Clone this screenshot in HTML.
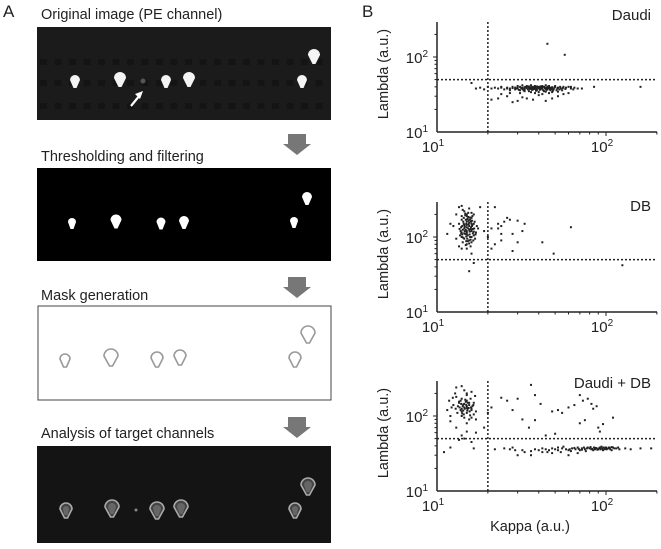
<!DOCTYPE html>
<html><head><meta charset="utf-8"><style>
html,body{margin:0;padding:0;background:#fff;}
svg{display:block;font-family:"Liberation Sans",Arial,sans-serif;}
</style></head><body>
<svg id="fig" width="661" height="549" viewBox="0 0 661 549" xmlns="http://www.w3.org/2000/svg">
<g id="panelA">
<text x="3" y="17" font-size="17" fill="#222">A</text>
<text x="41" y="19" font-size="14.5" fill="#222">Original image (PE channel)</text>
<rect x="37" y="27" width="294" height="93" fill="#1b1b1b"/>
<g id="dimmarks"></g>
<g id="img1blobs"></g>
<circle cx="143" cy="81" r="2.5" fill="#555"/>
<path d="M131,106 L140,95" stroke="#fff" stroke-width="2.2"/>
<path d="M143,91 L135,94 L140,99 Z" fill="#fff"/>
<text x="41" y="161" font-size="14.5" fill="#222">Thresholding and filtering</text>
<rect x="37" y="168" width="294" height="93" fill="#000"/>
<g id="img2blobs"></g>
<text x="41" y="300" font-size="14.5" fill="#222">Mask generation</text>
<rect x="38" y="306" width="293" height="94" fill="#fff" stroke="#444" stroke-width="1"/>
<g id="img3blobs"></g>
<text x="41" y="438" font-size="14.5" fill="#222">Analysis of target channels</text>
<rect x="37" y="446" width="294" height="97" fill="#141414"/>
<g id="img4blobs"></g>
<g id="arrows"></g>
</g>
<g id="panelB">
<text x="362" y="17" font-size="17" fill="#222">B</text>
</g>
</svg>
<script>
// ---- chart data ----
const xTickExponents = [1, 2];
const yTickExponents = [1, 2];
const kappaGate = 20;
const lambdaGate = 50;
const plotTitles = ["Daudi", "DB", "Daudi + DB"];
const daudiPoints = [[26,39],[27,38],[28,40],[29,39],[30,38],[31,40],[32,39],[33,38],[34,40],[35,39],[36,38],[37,40],[38,39],[39,38],[40,40],[41,39],[42,38],[43,40],[44,39],[45,38],[46,40],[47,39],[48,38],[50,40],[52,39],[54,38],[56,40],[58,39],[60,40],[25,37],[27,36],[29,37],[31,36],[33,37],[35,35],[37,37],[39,36],[41,37],[43,35],[45,37],[47,36],[49,37],[51,36],[53,37],[55,36],[30,41],[34,41],[38,41],[42,41],[46,41],[50,41],[36,42],[44,42],[32,42],[28,38.5],[30,39.5],[32,37.5],[34,38.5],[36,39.5],[38,37.5],[40,38.5],[42,39.5],[44,37.5],[46,38.5],[48,39.5],[33,39.5],[37,38.5],[41,40.5],[45,39.5],[39,40.5],[35,40.5],
[29.5,38],[31.5,38.5],[33.5,40],[35.5,37.5],[37.5,39],[39.5,39.5],[41.5,38],[43.5,38.5],[45.5,40.5],[47.5,37.5],[49.5,39],[51.5,38],[53.5,40],[55.5,38.5],[57.5,37.5],[30.5,36.5],[32.5,36],[34.5,37],[36.5,36.5],[38.5,35.5],[40.5,36.5],[42.5,36],[44.5,36.5],[46.5,37],[48.5,35.5],[36,34],[40,34],[44,34.5],[48,34],[33,35],[52,34.5],[26,38],[24,39],[62,40],[64,37],
[17,38],[18,39],[19,37],[20,40],[21,38],[22,39],[23,38],[24,40],[62,38],[65,39],[68,38],[72,38],[85,40],[160,40],[16,45],[21,27],[23,28],[26,30],[28,25],[30,26],[32,29],[34,28],[37,27],[40,31],[44,26],[48,28],[52,30],[38,33],[42,32],[46,33],[56,32],[60,33],[31,33],[27,33],[24,32],[45,150],[57,107]];
const dbPoints = [[14,100],[15,110],[16,120],[14.5,130],[15.5,140],[16.5,150],[15,160],[14,170],[16,180],[15,190],[14.5,95],[15.5,90],[16,85],[15,80],[14,115],[16,125],[15,135],[14.5,145],[15.5,155],[16.5,105],[13.8,120],[17,115],[15,200],[14.5,220],[16,210],[15.5,240],[14,260],[13.5,150],[17.2,140],[16.8,95],[14.2,85],[15.8,75],[13,95],[12.5,140],[13,200],[16,100],[15,120],[14.7,110],[15.3,130],[15.7,170],[14.3,160],[16.2,145],[13.5,250],[15,70],[14,70],[13.5,75],[16,60],[15.5,35],[16.5,45],[12,150],[11.5,110],[17.5,130],[16.5,200],[14.2,230],[15,115],[15.2,105],[14.8,125],[15.6,118],[14.6,138],[15.9,135],[16.3,112],[14.1,108],[14.9,150],[15.4,165],[14.4,180],[16.1,165],[15.1,95],[14.9,88],[15.7,100],[13.9,135],[16.6,130],[15.3,185],[14.7,195],[16,150],[15.2,175],[14.6,120],[15.8,128],[13.7,105],[16.4,90],[15,145],
[14.2,125],[14.4,150],[14.8,170],[15.4,148],[15.6,108],[15.9,160],[16.1,140],[16.3,128],[13.9,112],[14.1,140],[14.5,112],[14.9,102],[15.1,172],[15.5,125],[15.7,182],[16.5,118],[16.7,160],[13.6,128],[14,190],[15.3,210],[14.7,205],[16.2,190],[15.8,92],[14.3,98],[15.5,82],[16.9,108],[14.8,78],[15.2,88],
[19,120],[21,130],[22,250],[23,150],[24,140],[25,160],[23,130],[24,110],[24,90],[22,80],[27,170],[26,180],[30,165],[28,110],[32,120],[33,150],[30,85],[28,65],[42,85],[49,60],[62,135],[125,42],[20,100],[21,70],[18,250]];
const mixPoints = [[14,100],[15,110],[16,120],[14.5,130],[15.5,140],[16.5,150],[15,160],[14,170],[13,180],[15,190],[14.5,95],[15.5,90],[12,85],[15,80],[14,115],[16,125],[15,135],[14.5,145],[13.5,155],[16.5,105],[13.8,120],[17,115],[15,200],[14.5,220],[16,210],[13,240],[14,250],[13.5,150],[12.5,140],[11.5,120],[12,100],[11.8,160],[12.8,200],[16,95],[15.2,125],[14.2,135],[13.2,110],[13.6,130],[14.8,155],[15.8,170],[12.4,175],[16.8,185],[17,90],[13,70],[15,62],[14,55],[14.5,50],[13.5,48],[16,45],[12,38],[11,33],[16.5,37],[17,60],[15.5,150],[14.3,142],[13.8,160],[12.2,130],[15.1,118],[14.1,108],[16.2,135],
[14.6,125],[15.4,128],[14.9,140],[15.6,115],[14.3,118],[13.9,145],[15.2,150],[14.7,165],[13.3,135],[16.4,140],[15.9,130],[12.9,125],[14,125],[15,128],[14.4,105],[15.7,102],
[38,36],[40,35],[42,37],[44,36],[46,35],[48,37],[50,36],[52,35],[55,37],[58,36],[60,35],[63,37],[66,36],[70,35],[72,37],[75,36],[78,38],[80,37],[82,36],[85,38],[88,37],[90,36],[92,38],[95,37],[98,36],[100,38],[103,37],[106,36],[110,38],[115,37],[120,36],[130,37],[140,36],[160,37],[185,37],[68,38],[74,38],[86,36],[94,39],[104,38],[112,37],[62,34],[54,33],[45,33],[36,34],[32,35],[30,30],[33,33],[48,32],[60,30],[68,32],[76,34],[84,35],[96,35],[108,35],[118,38],[52,38],[56,39],
[77,37],[81,38.5],[83,36.5],[87,37.5],[89,35.5],[91,37],[93,36],[97,38],[99,37],[101,36],[105,37.5],[108,38.5],[72,35.5],[69,36.5],[65,37.5],[61,36],
[25,37],[28,38],[22,36],[27,36],[29,35],[36,30],[42,33],[24,175],[26,160],[30,170],[36,260],[38,190],[41,145],[48,115],[52,120],[55,110],[60,130],[65,140],[70,190],[73,160],[78,170],[82,145],[84,125],[88,135],[96,78],[110,95],[28,120],[32,90],[35,70],[38,88],[44,55],[50,58],[90,70],[92,62],[75,88],[70,80],[20,110],[21,130],[19,70]];
const plots = [daudiPoints, dbPoints, mixPoints];

const NS = "http://www.w3.org/2000/svg";
function mk(tag, attrs, parent){const e=document.createElementNS(NS,tag);for(const k in attrs)e.setAttribute(k,attrs[k]);parent.appendChild(e);return e;}

// ---- panel A decorations ----
const dm=document.getElementById('dimmarks');
for(const yy of [62,83,106]){for(let xx=40;xx<330;xx+=14.5){
 const r=mk('rect',{x:xx,y:yy-3,width:7,height:6,fill:'#141414'},dm);
 
 
}}
const cells1=[[75,80,5],[120,78,6],[166,80,5],[189,78,6],[302,80,5],[314,55,6]];
const cells2=[[72,222,4],[116,220,5.5],[161,222,4.5],[184,221,5],[294,221,4],[307,197,5]];
const cells3=[[65,359,5],[111,356,7],[157,358,6],[180,356,6],[295,358,6],[308,333,7]];
const cells4=[[66,509,5],[112,507,6],[157,509,6],[181,507,6],[295,509,5],[308,485,6]];
function bulb(g,cx,cy,r,fill,stroke){
 const p=mk('path',{d:`M${cx-r},${cy} a${r},${r} 0 1,1 ${2*r},0 L${cx+1.5},${cy+r+3} L${cx-1.5},${cy+r+3} Z`,fill:fill,stroke:stroke||'none','stroke-width':1.6},g);
 
 
}
const g1=document.getElementById('img1blobs');cells1.forEach(c=>bulb(g1,c[0],c[1],c[2],'#f4f4f4'));
const g2=document.getElementById('img2blobs');cells2.forEach(c=>bulb(g2,c[0],c[1],c[2],'#fff'));
const g3=document.getElementById('img3blobs');cells3.forEach(c=>bulb(g3,c[0],c[1],c[2],'none','#999'));
const g4=document.getElementById('img4blobs');cells4.forEach(c=>{bulb(g4,c[0],c[1],c[2]+1,'#444','#aaa');bulb(g4,c[0],c[1],c[2]-2,'#666');});
mk('circle',{cx:136,cy:510,r:1.5,fill:'#888'},g4);
const ar=document.getElementById('arrows');
for(const ty of [134,277,417]){
 const a=mk('path',{d:`M288,${ty} L306,${ty} L306,${ty+10} L311,${ty+10} L297,${ty+21} L283,${ty+10} L288,${ty+10} Z`,fill:'#777'},ar);
 
 
}

// ---- panel B scatter plots ----
const pB=document.getElementById('panelB');
const X0=437, X1=657, DEC_X=169, DEC_Y=75;
const bottoms=[132,312,491];
const titleY=[20,211,388];
function xs(k){return X0+DEC_X*Math.log10(k/10);}
plots.forEach((pts,i)=>{
 const B=bottoms[i], T=B-110;
 const ys=l=>B-DEC_Y*Math.log10(l/10);
 const g=mk('g',{},pB);
 
 
 const t=mk('text',{x:651,y:titleY[i],'font-size':15,'text-anchor':'end',fill:'#222'},g);t.textContent=plotTitles[i];
 
 
 pts.forEach(p=>{
  const d=mk('rect',{x:xs(p[0])-1,y:ys(p[1])-1,width:2,height:2,fill:'#222'},g);
  
  
 });
 const gv=mk('line',{x1:xs(kappaGate),x2:xs(kappaGate),y1:T,y2:B,stroke:'#222','stroke-width':1.5,'stroke-dasharray':'2,2'},g);
 
 
 const gh=mk('line',{x1:X0,x2:X1,y1:ys(lambdaGate),y2:ys(lambdaGate),stroke:'#222','stroke-width':1.5,'stroke-dasharray':'2,2'},g);
 
 
 const ax=mk('line',{x1:X0,x2:X1,y1:B,y2:B,stroke:'#222','stroke-width':1.5},g);
 
 
 const ay=mk('line',{x1:X0,x2:X0,y1:T,y2:B,stroke:'#222','stroke-width':1.5},g);
 
 
 [20,30,40,50,60,70,80,90,100,200].forEach(v=>{mk('line',{x1:xs(v),x2:xs(v),y1:B,y2:B+(v===100?4:2.5),stroke:'#222','stroke-width':1},g);});
 [20,30,40,50,60,70,80,90,100,200].forEach(v=>{mk('line',{x1:X0,x2:X0-(v===100?4:2.5),y1:ys(v),y2:ys(v),stroke:'#222','stroke-width':1},g);});
 xTickExponents.forEach(e=>{
  const tx=mk('text',{x:xs(Math.pow(10,e))-4,y:B+20,'font-size':15,'text-anchor':'middle',fill:'#222'},g);
  tx.innerHTML='10<tspan dy="-6" font-size="10">'+e+'</tspan>';
  
  
 });
 yTickExponents.forEach(e=>{
  const ty=mk('text',{x:X0-9,y:ys(Math.pow(10,e))+6,'font-size':15,'text-anchor':'end',fill:'#222'},g);
  ty.innerHTML='10<tspan dy="-6" font-size="10">'+e+'</tspan>';
  
  
 });
 const yl=mk('text',{x:0,y:0,'font-size':14.5,'text-anchor':'middle',fill:'#222',transform:`translate(388,${B-58}) rotate(-90)`},g);
 yl.textContent='Lambda (a.u.)';
 
 
});
const xl=mk('text',{x:530,y:531,'font-size':14.5,'text-anchor':'middle',fill:'#222'},pB);
xl.textContent='Kappa (a.u.)';


</script>
</body></html>
